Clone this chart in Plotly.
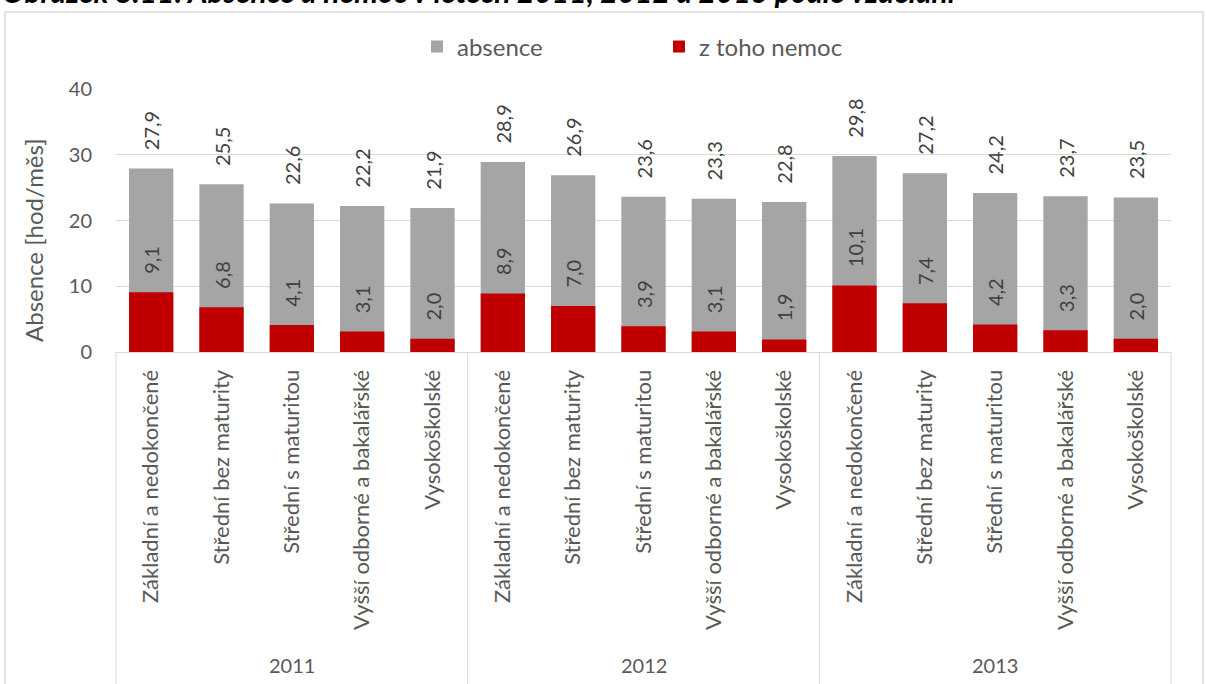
import plotly.graph_objects as go

years = ["2011", "2012", "2013"]
categories = ["Základní a nedokončené", "Střední bez maturity", "Střední s maturitou",
              "Vyšší odborné a bakalářské", "Vysokoškolské"]
absence_2011 = [27.9, 25.5, 22.6, 22.2, 21.9]
absence_2012 = [28.9, 26.9, 23.6, 23.3, 22.8]
absence_2013 = [29.8, 27.2, 24.2, 23.7, 23.5]
nemoc_2011 = [9.1, 6.8, 4.1, 3.1, 2.0]
nemoc_2012 = [8.9, 7.0, 3.9, 3.1, 1.9]
nemoc_2013 = [10.1, 7.4, 4.2, 3.3, 2.0]
y_ticks = [0, 10, 20, 30, 40]

absence = absence_2011 + absence_2012 + absence_2013
nemoc = nemoc_2011 + nemoc_2012 + nemoc_2013
labels = categories * len(years)
xpos = list(range(len(labels)))

def fmt(v):
    return "\u00a0\u00a0\u00a0" + f"{v:.1f}".replace(".", ",")

FONT = "Lato, 'Noto Sans', sans-serif"
TXT = "#595959"
GRID = "#d9d9d9"

fig = go.Figure()
fig.add_trace(go.Bar(
    x=xpos, y=absence, name="absence", marker_color="#a5a5a5", marker_line_width=0,
    text=[fmt(v) for v in absence], textposition="outside", textangle=-90,
    textfont=dict(family=FONT, size=20, color="#404040"), cliponaxis=False,
    constraintext="none", width=0.63,
))
fig.add_trace(go.Bar(
    x=xpos, y=nemoc, name="z toho nemoc", marker_color="#c00000", marker_line_width=0,
    text=[fmt(v) for v in nemoc], textposition="outside", textangle=-90,
    textfont=dict(family=FONT, size=20, color="#404040"), cliponaxis=False,
    constraintext="none", width=0.63,
))

shapes = []
n = len(categories)
# group dividers
for g in range(len(years) + 1):
    b = g * n - 0.5
    if g == 0:
        shapes.append(dict(type="line", xref="paper", yref="paper", x0=0, x1=0, y0=0, y1=-1.4,
                           line=dict(color=GRID, width=1)))
    elif g == len(years):
        shapes.append(dict(type="line", xref="paper", yref="paper", x0=1, x1=1, y0=0, y1=-1.4,
                           line=dict(color=GRID, width=1)))
    else:
        shapes.append(dict(type="line", xref="x", yref="paper", x0=b, x1=b, y0=0, y1=-1.4,
                           line=dict(color=GRID, width=1)))
# outer border
shapes.append(dict(type="rect", xref="paper", yref="paper", x0=-0.1052, x1=1.0303,
                   y0=1.2928, y1=-1.5, line=dict(color=GRID, width=1.5), fillcolor="rgba(0,0,0,0)"))

annotations = []
for g, yr in enumerate(years):
    annotations.append(dict(x=g * n + (n - 1) / 2, y=-1.19, xref="x", yref="paper", text=yr,
                            showarrow=False, yanchor="middle",
                            font=dict(family=FONT, size=20, color=TXT)))
annotations.append(dict(x=-0.0777, y=0.426, xref="paper", yref="paper", text="Absence [hod/měs]",
                        textangle=-90, showarrow=False, xanchor="center", yanchor="middle",
                        font=dict(family=FONT, size=24, color=TXT)))
annotations.append(dict(x=-0.11, y=1.297, xref="paper", yref="paper",
                        text="<b><i>Obrázek 8.11: Absence a nemoc v letech 2011, 2012 a 2013 podle vzdělání</i></b>",
                        showarrow=False, xanchor="left", yanchor="bottom",
                        font=dict(family=FONT, size=30, color="#000000")))

fig.update_layout(
    width=1206, height=684,
    margin=dict(l=116, r=35, t=89, b=332),
    paper_bgcolor="white", plot_bgcolor="white",
    barmode="overlay",
    showlegend=True,
    legend=dict(orientation="h", x=0.2853, xanchor="left", y=1.16, yanchor="middle",
                font=dict(family=FONT, size=24, color=TXT), bgcolor="rgba(0,0,0,0)",
                entrywidth=197, entrywidthmode="pixels", traceorder="normal"),
    shapes=shapes, annotations=annotations,
    font=dict(family=FONT, color=TXT),
)
fig.update_xaxes(range=[-0.5, len(labels) - 0.5], tickmode="array", tickvals=xpos, ticktext=labels,
                 tickangle=-90, tickfont=dict(family=FONT, size=22, color=TXT),
                 showline=True, linecolor=GRID, linewidth=1, showgrid=False, zeroline=False,
                 ticks="", ticklabelstandoff=8, automargin=False)
fig.update_yaxes(range=[0, 40], tickmode="array", tickvals=y_ticks,
                 tickfont=dict(family=FONT, size=20, color=TXT),
                 showgrid=True, gridcolor=GRID, gridwidth=1, zeroline=False, showline=False,
                 ticks="", ticklabelstandoff=23, automargin=False)

fig.write_html("out.html", config={"displayModeBar": False},
               post_script="document.body.style.margin='0';document.body.style.overflow='hidden';")
